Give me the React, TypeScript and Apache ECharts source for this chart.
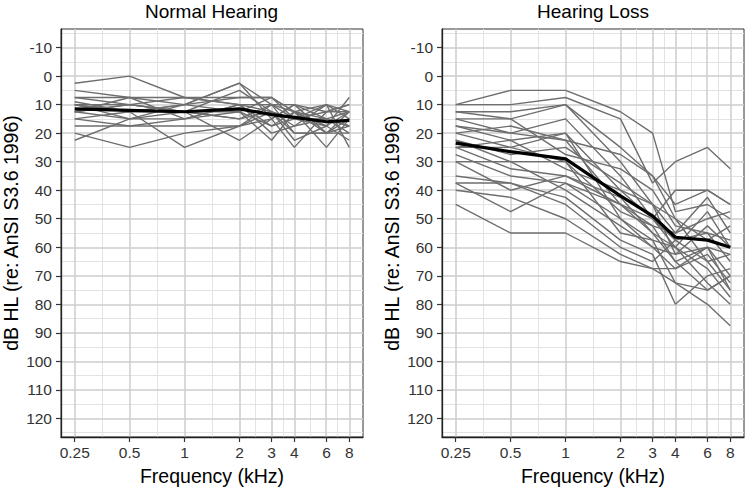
import React, { useEffect, useRef } from "react";
import * as echarts from "echarts";

const frequencies = [0.25, 0.5, 1, 2, 3, 4, 6, 8];
const freqTickLabels = ["0.25", "0.5", "1", "2", "3", "4", "6", "8"];
const dbTicks = [-10, 0, 10, 20, 30, 40, 50, 60, 70, 80, 90, 100, 110, 120];

const panelTitles = ["Normal Hearing", "Hearing Loss"];
const yTitle = "dB HL (re: AnSI S3.6 1996)";
const xTitle = "Frequency (kHz)";

const normalLines: number[][] = [
  [2.5, 0, 7.5, 10, 10, 12.5, 15, 12.5],
  [5, 7.5, 10, 2.5, 15, 10, 15, 17.5],
  [7.5, 7.5, 7.5, 7.5, 7.5, 15, 10, 12.5],
  [10, 10, 12.5, 5, 12.5, 20, 20, 20],
  [10, 12.5, 10, 2.5, 10, 15, 12.5, 10],
  [12.5, 7.5, 15, 10, 17.5, 12.5, 17.5, 7.5],
  [12.5, 15, 12.5, 15, 10, 20, 20, 15],
  [15, 17.5, 15, 12.5, 22.5, 12.5, 25, 15],
  [17.5, 17.5, 17.5, 17.5, 12.5, 17.5, 15, 17.5],
  [20, 25, 20, 17.5, 15, 25, 12.5, 12.5],
  [22.5, 15, 10, 7.5, 7.5, 12.5, 10, 25],
  [10, 12.5, 25, 17.5, 10, 10, 20, 17.5],
  [12.5, 10, 7.5, 10, 12.5, 15, 15, 20],
  [15, 12.5, 12.5, 22.5, 15, 10, 12.5, 10],
  [7.5, 10, 12.5, 12.5, 17.5, 15, 17.5, 12.5],
  [10, 15, 15, 10, 20, 17.5, 10, 15],
  [12.5, 10, 12.5, 15, 12.5, 22.5, 17.5, 22.5],
  [9, 12.5, 10, 12.5, 7.5, 12.5, 20, 12.5],
];
const normalMean = [11.5, 12, 12.5, 11.5, 13.5, 14.5, 16, 15.5];

const lossLines: number[][] = [
  [10, 5, 5, 12.5, 20, 47.5, 45, 50],
  [10, 10, 7.5, 15, 37.5, 30, 25, 32.5],
  [12.5, 12.5, 10, 25, 35, 45, 40, 45],
  [15, 15, 10, 30, 45, 55, 50, 47.5],
  [15, 20, 15, 35, 50, 40, 40, 45],
  [17.5, 22.5, 20, 40, 50, 57.5, 55, 65],
  [20, 17.5, 22.5, 45, 55, 60, 47.5, 60],
  [20, 25, 20, 50, 60, 62.5, 60, 70],
  [22.5, 27.5, 25, 37.5, 45, 50, 65, 62.5],
  [22.5, 30, 30, 55, 57.5, 72.5, 75, 70],
  [25, 32.5, 35, 42.5, 55, 65, 60, 75],
  [25, 25, 30, 47.5, 52.5, 55, 42.5, 55],
  [27.5, 35, 37.5, 50, 57.5, 60, 72.5, 80],
  [30, 30, 40, 52.5, 60, 67.5, 62.5, 72.5],
  [35, 37.5, 42.5, 57.5, 62.5, 80, 70, 67.5],
  [37.5, 37.5, 45, 60, 65, 57.5, 65, 75],
  [37.5, 47.5, 37.5, 45, 52.5, 65, 75, 70],
  [40, 42.5, 50, 62.5, 67.5, 72.5, 80, 87.5],
  [45, 55, 55, 65, 67.5, 67.5, 60, 62.5],
  [17.5, 20, 22.5, 27.5, 35, 50, 57.5, 52.5],
  [12.5, 15, 27.5, 32.5, 40, 52.5, 55, 57.5],
  [30, 40, 35, 45, 50, 60, 67.5, 77.5],
  [25, 22.5, 32.5, 40, 45, 62.5, 52.5, 60],
];
const lossMean = [23.5, 26.5, 29, 42, 49, 56.5, 57.5, 60];

const FONT = "Liberation Sans, Arial, Helvetica, sans-serif";

export default function App() {
  const ref = useRef<HTMLDivElement>(null);

  useEffect(() => {
    if (!ref.current) return;
    const chart = echarts.init(ref.current, undefined, { renderer: "svg" });

    const logTicks = frequencies.map((f) => Math.log2(f));
    const minorX: number[] = [];
    for (let i = 0; i < logTicks.length - 1; i++) minorX.push((logTicks[i] + logTicks[i + 1]) / 2);
    const majorY = dbTicks;
    const minorY: number[] = [-15];
    dbTicks.forEach((t) => minorY.push(t + 5));

    const labelFor = (v: number) => {
      const idx = logTicks.findIndex((t) => Math.abs(t - v) < 1e-6);
      return idx >= 0 ? freqTickLabels[idx] : "";
    };

    const grids = [
      { left: 60, top: 29, width: 303, height: 413 },
      { left: 442, top: 29, width: 302, height: 413 },
    ];

    const xAxes: any[] = [];
    const yAxes: any[] = [];
    const series: any[] = [];
    const titles: any[] = [];

    const panels = [
      { lines: normalLines, mean: normalMean },
      { lines: lossLines, mean: lossMean },
    ];

    panels.forEach((p, gi) => {
      const g = grids[gi];
      titles.push({
        text: panelTitles[gi],
        left: g.left + g.width / 2,
        textAlign: "center",
        top: 2,
        padding: 0,
        textStyle: { fontFamily: FONT, fontSize: 19, fontWeight: "normal", color: "#000" },
      });
      xAxes.push({
        type: "value",
        gridIndex: gi,
        min: -2.25,
        max: 3.25,
        position: "bottom",
        name: xTitle,
        nameLocation: "middle",
        nameGap: 29,
        nameTextStyle: { fontFamily: FONT, fontSize: 19.5, color: "#000" },
        axisLine: { show: true, onZero: false, lineStyle: { color: "#222", width: 1.3 } },
        axisTick: { show: true, length: 5, customValues: logTicks, lineStyle: { color: "#333", width: 1.2 } },
        axisLabel: {
          customValues: logTicks,
          formatter: (v: number) => labelFor(v),
          fontFamily: FONT,
          fontSize: 15.5,
          color: "#333",
          margin: 7,
        },
        splitLine: { show: false },
      });
      yAxes.push({
        type: "value",
        gridIndex: gi,
        inverse: true,
        min: -16.5,
        max: 126.5,
        name: yTitle,
        nameLocation: "middle",
        nameRotate: 90,
        nameGap: 40,
        nameTextStyle: { fontFamily: FONT, fontSize: 19.5, color: "#000" },
        axisLine: { show: true, onZero: false, lineStyle: { color: "#222", width: 1.3 } },
        axisTick: { show: true, length: 5, customValues: dbTicks, lineStyle: { color: "#333", width: 1.2 } },
        axisLabel: {
          customValues: dbTicks,
          fontFamily: FONT,
          fontSize: 15.5,
          color: "#333",
          margin: 9,
        },
        splitLine: { show: false },
      });

      const gridData: any[] = [];
      minorX.forEach((v) => gridData.push({ xAxis: v, lineStyle: { color: "#e3e3e3", width: 1, type: "solid" } }));
      minorY.forEach((v) => gridData.push({ yAxis: v, lineStyle: { color: "#e3e3e3", width: 1, type: "solid" } }));
      logTicks.forEach((v) => gridData.push({ xAxis: v, lineStyle: { color: "#cdcdcd", width: 1.5, type: "solid" } }));
      majorY.forEach((v) => gridData.push({ yAxis: v, lineStyle: { color: "#cdcdcd", width: 1.5, type: "solid" } }));

      series.push({
        type: "line",
        xAxisIndex: gi,
        yAxisIndex: gi,
        z: 0,
        silent: true,
        symbol: "none",
        lineStyle: { opacity: 0 },
        data: frequencies.map((f, i) => [Math.log2(f), p.mean[i]]),
        markLine: {
          z: 0,
          silent: true,
          symbol: ["none", "none"],
          label: { show: false },
          animation: false,
          data: gridData,
        },
      });

      p.lines.forEach((vals) => {
        series.push({
          type: "line",
          xAxisIndex: gi,
          yAxisIndex: gi,
          z: 2,
          silent: true,
          symbol: "none",
          lineStyle: { color: "#6e6e6e", width: 1.4 },
          data: frequencies.map((f, i) => [Math.log2(f), vals[i]]),
        });
      });
      series.push({
        type: "line",
        xAxisIndex: gi,
        yAxisIndex: gi,
        z: 3,
        silent: true,
        symbol: "none",
        lineStyle: { color: "#000", width: 3.2 },
        data: frequencies.map((f, i) => [Math.log2(f), p.mean[i]]),
      });
    });

    chart.setOption({
      animation: false,
      backgroundColor: "#fff",
      title: titles,
      grid: grids.map((g) => ({ ...g, show: true, borderColor: "#333", borderWidth: 1, backgroundColor: "transparent" })),
      xAxis: xAxes,
      yAxis: yAxes,
      series,
    });

    return () => chart.dispose();
  }, []);

  return (
    <div
      ref={ref}
      style={{ position: "fixed", left: 0, top: 0, width: 747, height: 491, background: "#fff" }}
    />
  );
}
